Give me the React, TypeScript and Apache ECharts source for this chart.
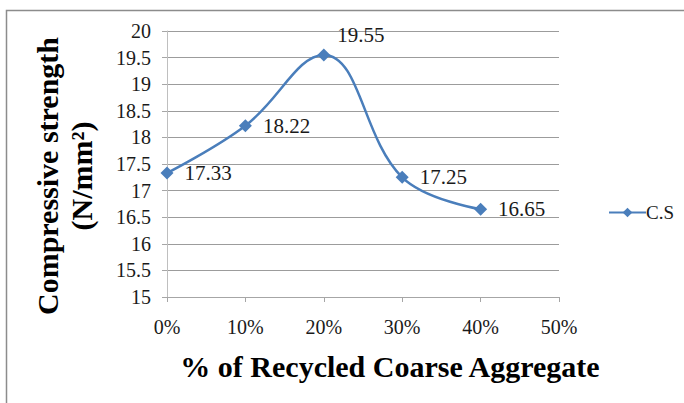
import React, { useEffect, useRef } from "react";
import * as echarts from "echarts";

const categories = ["0%", "10%", "20%", "30%", "40%", "50%"];
const csValues: (number | null)[] = [17.33, 18.22, 19.55, 17.25, 16.65, null];
const seriesName = "C.S";
const yTitle = "Compressive strength\n(N/mm²)";
const xTitle = "% of Recycled Coarse Aggregate";

export default function App() {
  const ref = useRef<HTMLDivElement>(null);
  useEffect(() => {
    const chart = echarts.init(ref.current!, undefined, { renderer: "svg" });
    const serif = "Liberation Serif";
    chart.setOption({
      animation: false,
      backgroundColor: "#ffffff",
      grid: { left: 167, right: 125, top: 31, bottom: 106 },
      xAxis: {
        type: "category",
        data: categories,
        boundaryGap: false,
        axisLine: { lineStyle: { color: "#a6a6a6", width: 1 } },
        axisTick: { show: true, length: 5, lineStyle: { color: "#a6a6a6" } },
        axisLabel: { color: "#1a1a1a", fontFamily: serif, fontSize: 20, margin: 20 },
        splitLine: { show: false },
      },
      yAxis: {
        type: "value",
        min: 15,
        max: 20,
        interval: 0.5,
        axisLine: { show: true, lineStyle: { color: "#bfbfbf", width: 1 } },
        axisTick: { show: true, length: 5, lineStyle: { color: "#a6a6a6" } },
        axisLabel: { color: "#1a1a1a", fontFamily: serif, fontSize: 20, margin: 16 },
        splitLine: { show: true, lineStyle: { color: "#9c9c9c", width: 1 } },
      },
      legend: {
        data: [seriesName],
        left: 603,
        top: 198,
        itemWidth: 37,
        itemHeight: 12,
        textStyle: { fontFamily: serif, fontSize: 19, color: "#1a1a1a", padding: [0, 0, 0, -5] },
      },
      series: [
        {
          name: seriesName,
          type: "line",
          smooth: 0.4,
          data: csValues.map((v, i) =>
            i === 2 && v !== null
              ? { value: v, label: { offset: [-4, -20] } }
              : v
          ),
          symbol: "diamond",
          symbolSize: 13,
          itemStyle: { color: "#4a7ebb" },
          lineStyle: { color: "#4a7ebb", width: 2.5 },
          label: {
            show: true,
            position: "right",
            distance: 11,
            fontFamily: serif,
            fontSize: 21,
            color: "#1a1a1a",
          },
        },
      ],
      graphic: [
        {
          type: "rect",
          shape: { x: 6.5, y: 10.5, width: 720, height: 440 },
          style: { fill: "none", stroke: "#8c8c8c", lineWidth: 1.5 },
          silent: true,
        },
        {
          type: "text",
          x: 64,
          y: 176,
          rotation: Math.PI / 2,
          style: {
            text: yTitle,
            fontFamily: serif,
            fontWeight: "bold",
            fontSize: 30,
            lineHeight: 34,
            fill: "#000000",
            textAlign: "center",
            textVerticalAlign: "middle",
          },
        },
        {
          type: "text",
          x: 390,
          y: 366,
          style: {
            text: xTitle,
            fontFamily: serif,
            fontWeight: "bold",
            fontSize: 30,
            fill: "#000000",
            textAlign: "center",
            textVerticalAlign: "middle",
          },
        },
      ],
    });
    return () => chart.dispose();
  }, []);
  return (
    <div
      ref={ref}
      style={{ position: "fixed", left: 0, top: 0, width: 684, height: 403 }}
    />
  );
}
